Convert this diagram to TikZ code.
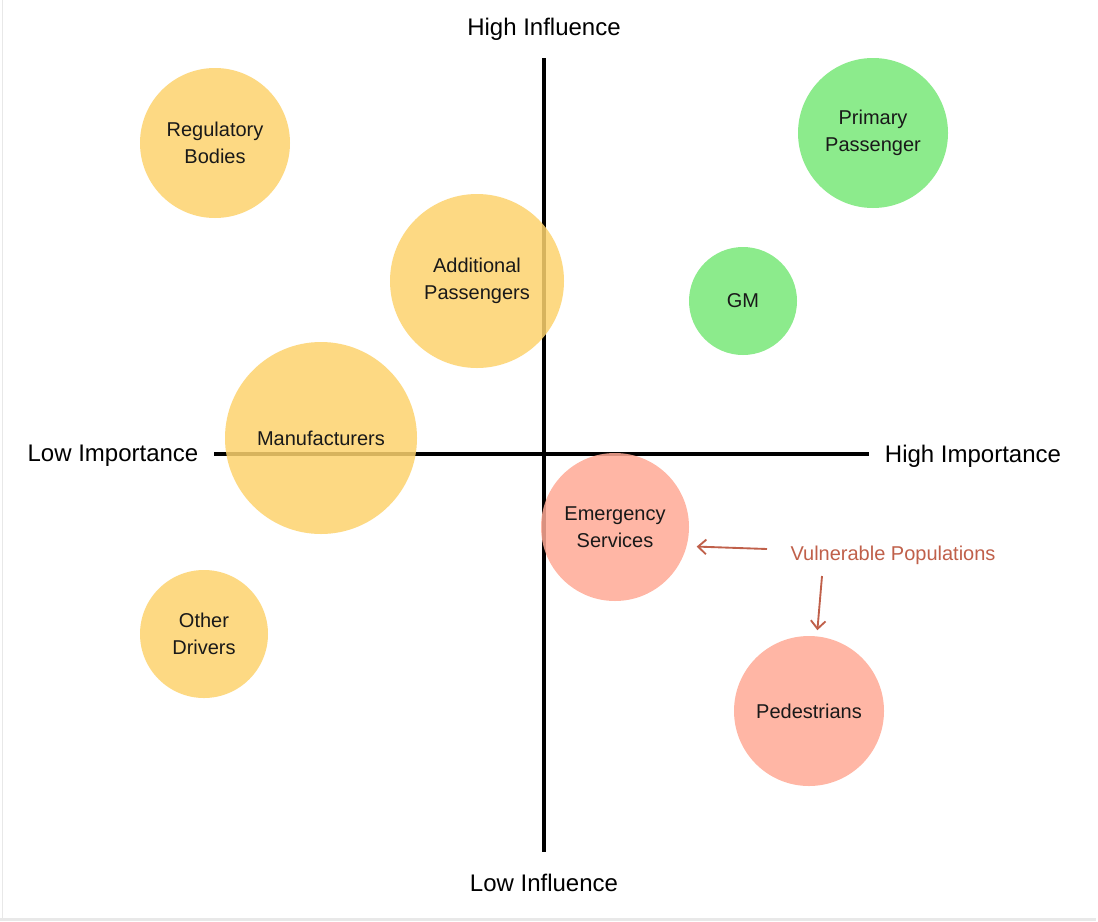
\documentclass[tikz,border=0pt]{standalone}
\usepackage{fontspec}
\setmainfont{Liberation Sans}
\usetikzlibrary{arrows.meta}
\definecolor{ylw}{RGB}{253,211,110}
\definecolor{grn}{RGB}{120,232,120}
\definecolor{pnk}{RGB}{255,170,150}
\definecolor{vred}{RGB}{192,96,74}
\definecolor{frame}{RGB}{232,232,232}
\tikzset{
  bub/.style={circle, inner sep=0pt, align=center, fill opacity=0.85, text opacity=1,
    font=\fontsize{15}{20.5}\selectfont, text=black!90},
  yb/.style={bub, fill=ylw},
  gb/.style={bub, fill=grn},
  pb/.style={bub, fill=pnk},
  axis/.style={line width=3pt, black},
  axlabel/.style={font=\fontsize{18}{21}\selectfont, inner sep=0pt},
  varrow/.style={draw=vred, line width=1.4pt, -{Straight Barb[length=6pt,width=11pt,line width=1.4pt]}},
}
\begin{document}
\begin{tikzpicture}[x=0.75pt,y=-0.75pt]
\useasboundingbox (0,0) rectangle (1098,921);
\fill[white] (0,0) rectangle (1098,921);
\fill[frame] (0,918) rectangle (1096,921);
\draw[frame, line width=0.75pt] (2.5,0) -- (2.5,918);
% axes
\coordinate (vt) at (544,58);
\coordinate (vb) at (544,852);
\coordinate (hl) at (214,454);
\coordinate (hr) at (869,454);
\draw[axis] (vt) -- (vb);
\draw[axis] (hl) -- (hr);
\node[axlabel] (hi) at (544,29) {High Influence};
\node[axlabel] (li) at (544,883) {Low Influence};
\node[axlabel] (limp) at (113,456) {Low Importance};
\node[axlabel] (himp) at (973,456) {High Importance};
% bubbles
\node[yb, minimum size=112.5pt] (rb) at (215,143) {Regulatory\\Bodies};
\node[gb, minimum size=112.5pt] (pp) at (873,133) {Primary\\Passenger};
\node[yb, minimum size=130.5pt] (ap) at (477,281) {Additional\\Passengers};
\node[gb, minimum size=81pt] (gm) at (743,301) {GM};
\node[yb, minimum size=144pt] (mf) at (321,438) {Manufacturers};
\node[pb, minimum size=111pt] (es) at (615,527) {Emergency\\Services};
\node[yb, minimum size=96pt] (od) at (204,634) {Other\\Drivers};
\node[pb, minimum size=112.5pt] (pd) at (809,711) {Pedestrians};
% annotation
\node[font=\fontsize{15}{18}\selectfont, text=vred, inner sep=0pt] (vp) at (893,555) {Vulnerable Populations};
\coordinate (v1) at (767,549);
\coordinate (v2) at (822,576);
\draw[varrow, shorten >=7.5pt] (v1) -- (es.-15);
\draw[varrow, shorten >=4.5pt] (v2) -- (pd.84);
\end{tikzpicture}
\end{document}
